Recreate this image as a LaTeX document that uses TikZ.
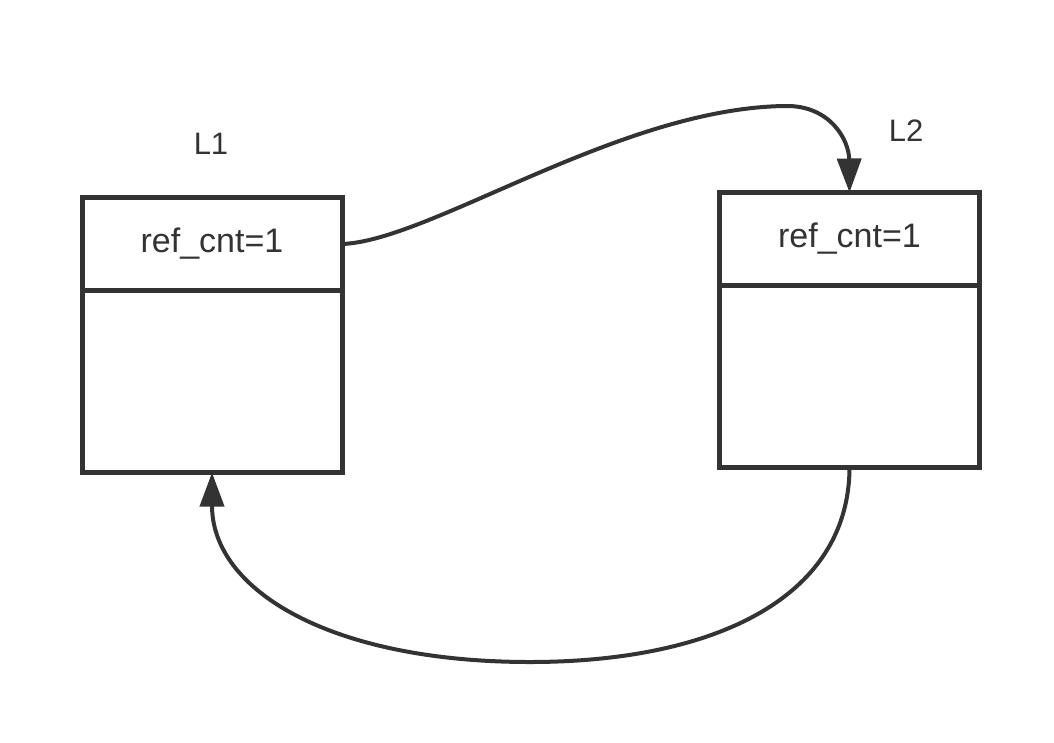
\documentclass[tikz,border=0pt]{standalone}
\usepackage{fontspec}
\setmainfont{Liberation Sans}
\usetikzlibrary{positioning, arrows.meta}
\definecolor{ink}{HTML}{333333}

\begin{document}
\begin{tikzpicture}[x=1pt, y=-1pt,
  cntbox/.style={draw=ink, line width=5pt, minimum width=260pt, minimum height=93pt,
    inner sep=0pt, outer sep=0pt, text=ink, font=\fontsize{34}{40}\selectfont},
  bodybox/.style={draw=ink, line width=5pt, minimum width=260pt, minimum height=182pt,
    inner sep=0pt, outer sep=0pt},
  lab/.style={text=ink, font=\fontsize{31}{37}\selectfont},
  link/.style={draw=ink, line width=4pt, -{Triangle[length=34pt,width=24pt]}}]
\useasboundingbox (0,0) rectangle (1054,742);
\node (cnt1) [cntbox] at (212,244) {ref\_cnt=1};
\node (body1) [bodybox, below=0pt of cnt1] {};
\node (cnt2) [cntbox] at (849.5,239) {ref\_cnt=1};
\node (body2) [bodybox, below=0pt of cnt2] {};
\node (lab1) [lab] at (211,144) {L1};
\node (lab2) [lab] at (906,131) {L2};
\draw[link] (cnt1.east) .. controls (430,241) and (620,108) .. (785,106)
  .. controls (830,105) and (849,140) .. (cnt2.north);
\draw[link] (body2.south) .. controls (849,600) and (710,662) .. (530,662)
  .. controls (330,662) and (212,590) .. (body1.south);
\end{tikzpicture}
\end{document}
